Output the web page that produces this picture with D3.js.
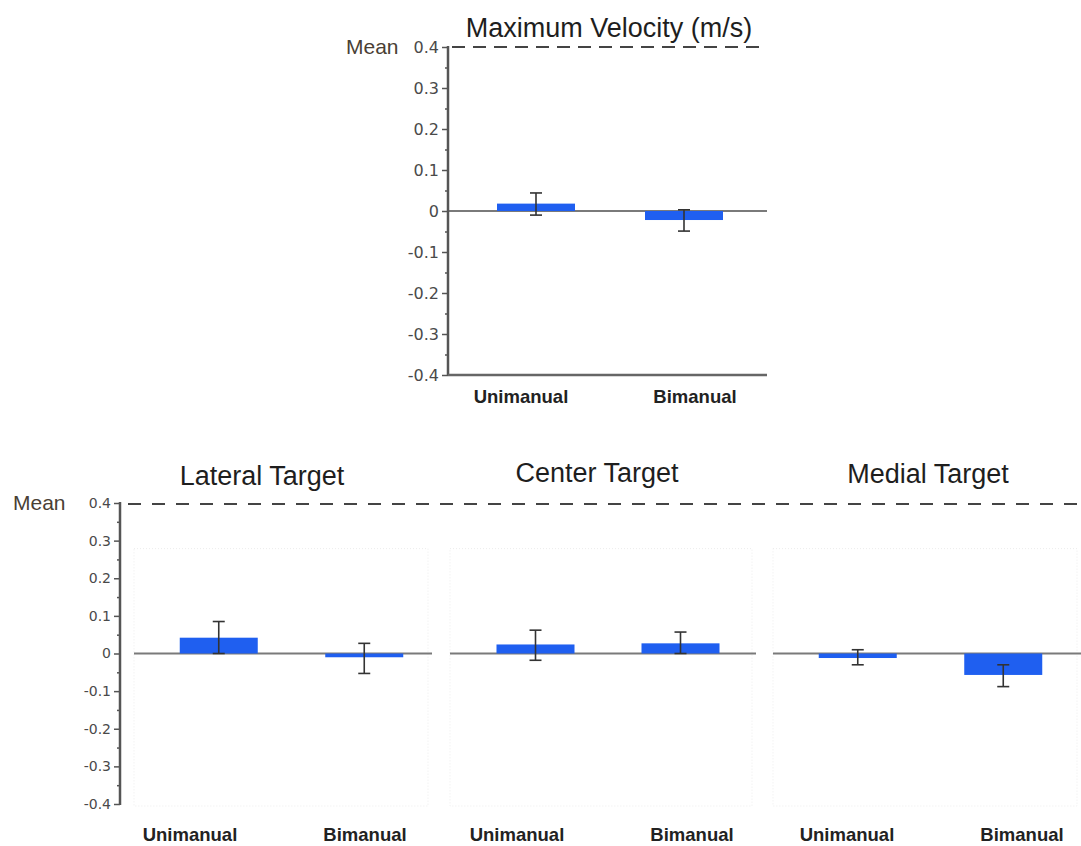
<!DOCTYPE html>
<html>
<head>
<meta charset="utf-8">
<script src="https://cdn.jsdelivr.net/npm/d3@7"></script>
<style>
  body { margin: 0; background: #fff; }
  svg { display: block; }
</style>
</head>
<body>
<div class="chart"></div>
<script>
// data
const categories = ['Unimanual', 'Bimanual'];
const panelTitles = ['Maximum Velocity (m/s)', 'Lateral Target', 'Center Target', 'Medial Target'];
const means    = [[0.018, -0.022], [0.042, -0.010], [0.024, 0.027], [-0.012, -0.057]];
const errLow   = [[-0.010, -0.049], [0.000, -0.053], [-0.018, 0.000], [-0.030, -0.088]];
const errHigh  = [[0.044, 0.003], [0.085, 0.027], [0.062, 0.057], [0.010, -0.030]];
const yTicks = [-0.4, -0.3, -0.2, -0.1, 0, 0.1, 0.2, 0.3, 0.4];
const refLine = 0.4;

const W = 1081, H = 846;
const blue = '#1f5ff0';
const barW = 78;

const svg = d3.select('.chart').append('svg')
  .attr('width', W)
  .attr('height', H);

const locale = d3.formatLocale({ decimal: '.', thousands: ',', grouping: [3], currency: ['', ''], minus: '-' });
const fmt = d => d === 0 ? '0' : locale.format('.1f')(d);

// layout of the four panels
const panels = [
  { x0: 448, x1: 767, y: d3.scaleLinear().domain([-0.4, 0.4]).range([375, 47]),
    bars: [462, 758], labels: [521, 695], titleX: 609, titleY: 37, box: false },
  { x0: 134, x1: 432, y: d3.scaleLinear().domain([-0.4, 0.4]).range([804, 503]),
    bars: [146, 437], labels: [190, 365], titleX: 262, titleY: 485, box: true },
  { x0: 450, x1: 756, y: d3.scaleLinear().domain([-0.4, 0.4]).range([804, 503]),
    bars: [463, 753], labels: [517, 692], titleX: 597, titleY: 482, box: true },
  { x0: 773, x1: 1081, y: d3.scaleLinear().domain([-0.4, 0.4]).range([804, 503]),
    bars: [785, 1076], labels: [847, 1022], titleX: 928, titleY: 483, box: true }
];

function drawAxis(g, y, axisX, fontSize) {
  const minor = d3.range(-0.35, 0.4, 0.1);
  const ax = g.append('g').attr('transform', `translate(${axisX},0)`);
  ax.call(d3.axisLeft(y).tickValues(yTicks).tickFormat(fmt).tickSize(6).tickPadding(3));
  ax.append('g').call(d3.axisLeft(y).tickValues(minor).tickFormat('').tickSize(3));
  ax.selectAll('.domain').remove();
  ax.selectAll('line').attr('stroke', '#555').attr('stroke-width', 1.5);
  ax.selectAll('text')
    .attr('fill', '#4a4a4a')
    .style('font-family', 'DejaVu Sans, sans-serif')
    .style('font-size', fontSize + 'px');
  g.append('line')
    .attr('x1', axisX).attr('x2', axisX)
    .attr('y1', y(0.4) - 1).attr('y2', y(-0.4) + 1)
    .attr('stroke', '#555').attr('stroke-width', 2.5);
}

function drawPanel(p, i) {
  const g = svg.append('g');
  const y = p.y;
  const xBar = d3.scalePoint().domain(categories).range(p.bars).padding(0.5);
  const xLab = d3.scalePoint().domain(categories).range(p.labels);

  if (p.box) {
    g.append('rect')
      .attr('x', p.x0).attr('y', y(0.3) + 8)
      .attr('width', p.x1 - p.x0 - 4).attr('height', y(-0.4) - y(0.3) - 6)
      .attr('fill', 'none')
      .attr('stroke', '#ececec')
      .attr('stroke-dasharray', '1,2');
  }

  // zero line
  g.append('line')
    .attr('x1', p.x0).attr('x2', p.x1)
    .attr('y1', y(0)).attr('y2', y(0))
    .attr('stroke', '#7a7a7a').attr('stroke-width', 2);

  // bars
  g.selectAll('.bar')
    .data(categories)
    .enter().append('rect')
    .attr('class', 'bar')
    .attr('x', d => xBar(d) - barW / 2)
    .attr('width', barW)
    .attr('y', (d, j) => y(Math.max(0, means[i][j])))
    .attr('height', (d, j) => Math.max(Math.abs(y(means[i][j]) - y(0)), 2))
    .attr('fill', blue);

  // error bars
  const eb = g.selectAll('.err')
    .data(categories)
    .enter().append('g')
    .attr('class', 'err')
    .attr('stroke', '#333')
    .attr('stroke-width', 1.6);
  eb.append('line')
    .attr('x1', d => xBar(d)).attr('x2', d => xBar(d))
    .attr('y1', (d, j) => y(errHigh[i][j]))
    .attr('y2', (d, j) => y(errLow[i][j]));
  eb.append('line')
    .attr('x1', d => xBar(d) - 6).attr('x2', d => xBar(d) + 6)
    .attr('y1', (d, j) => y(errHigh[i][j]))
    .attr('y2', (d, j) => y(errHigh[i][j]));
  eb.append('line')
    .attr('x1', d => xBar(d) - 6).attr('x2', d => xBar(d) + 6)
    .attr('y1', (d, j) => y(errLow[i][j]))
    .attr('y2', (d, j) => y(errLow[i][j]));

  // category labels
  g.selectAll('.cat')
    .data(categories)
    .enter().append('text')
    .attr('class', 'cat')
    .attr('x', d => xLab(d))
    .attr('y', i === 0 ? 403 : 841)
    .attr('text-anchor', 'middle')
    .style('font-family', 'Liberation Sans, Arial, sans-serif')
    .style('font-weight', 'bold')
    .style('font-size', '18.5px')
    .attr('fill', '#222')
    .text(d => d);

  // title
  g.append('text')
    .attr('x', p.titleX)
    .attr('y', p.titleY)
    .attr('text-anchor', 'middle')
    .style('font-family', 'Liberation Sans, Arial, sans-serif')
    .style('font-size', '27px')
    .attr('fill', '#1e1e1e')
    .text(panelTitles[i]);
}

panels.forEach(drawPanel);

// top chart axes
const topPanel = panels[0];
drawAxis(svg.append('g'), topPanel.y, topPanel.x0, 16);
svg.append('line')
  .attr('x1', topPanel.x0).attr('x2', topPanel.x1)
  .attr('y1', topPanel.y(-0.4)).attr('y2', topPanel.y(-0.4))
  .attr('stroke', '#666').attr('stroke-width', 2.5);
svg.append('line')
  .attr('x1', topPanel.x0 + 4).attr('x2', topPanel.x1)
  .attr('y1', topPanel.y(refLine)).attr('y2', topPanel.y(refLine))
  .attr('stroke', '#444').attr('stroke-width', 2)
  .attr('stroke-dasharray', '13,8');
svg.append('text')
  .attr('x', 346).attr('y', topPanel.y(refLine) + 7)
  .style('font-family', 'Liberation Sans, Arial, sans-serif')
  .style('font-size', '21px')
  .attr('fill', '#4a3f35')
  .text('Mean');

// bottom row axis (shared)
const bottomY = panels[1].y;
drawAxis(svg.append('g'), bottomY, 120, 14);
svg.append('line')
  .attr('x1', 128).attr('x2', W)
  .attr('y1', bottomY(refLine) + 1).attr('y2', bottomY(refLine) + 1)
  .attr('stroke', '#444').attr('stroke-width', 2)
  .attr('stroke-dasharray', '13,11');
svg.append('text')
  .attr('x', 13).attr('y', bottomY(refLine) + 7)
  .style('font-family', 'Liberation Sans, Arial, sans-serif')
  .style('font-size', '21px')
  .attr('fill', '#4a3f35')
  .text('Mean');
</script>
</body>
</html>
